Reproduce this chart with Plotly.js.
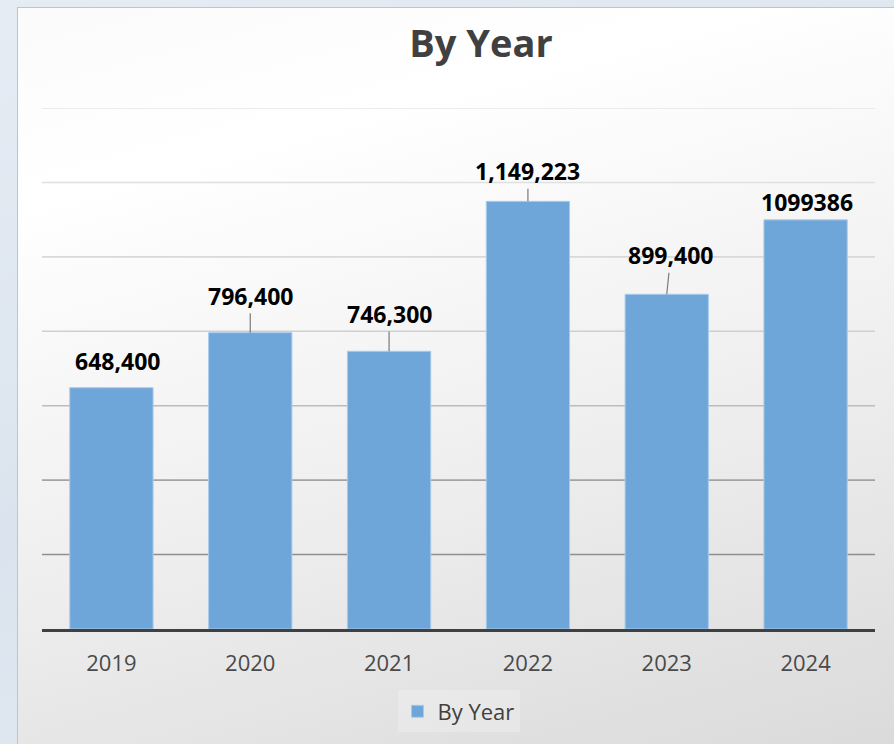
<!DOCTYPE html>
<html>
<head>
<meta charset="utf-8">
<script src="https://cdn.plot.ly/plotly-3.0.1.min.js"></script>
<style>
  html, body { margin:0; padding:0; width:894px; height:744px; overflow:hidden;
    background: linear-gradient(160deg, #e6ecf4 0%, #dbe4ee 50%, #e2e9f2 100%); }
  #frame { position:absolute; left:17px; top:7px; width:900px; height:760px;
    border:1px solid #c4c4c4; box-sizing:border-box;
    background: linear-gradient(165deg, #fbfbfb 0%, #ffffff 20%, #f0f0f0 55%, #d9d9d9 100%); }
  #chart { position:absolute; left:0; top:0; width:894px; height:744px; }
</style>
</head>
<body>
<div id="frame"></div>
<div id="chart"></div>
<script>
const categories = ['2019', '2020', '2021', '2022', '2023', '2024'];
const values = [648400, 796400, 746300, 1149223, 899400, 1099386];
const valueLabels = ['648,400', '796,400', '746,300', '1,149,223', '899,400', '1099386'];
const seriesName = 'By Year';
const gridValues = [200000, 400000, 600000, 800000, 1000000, 1200000, 1400000];

// label placement styling (pixel offsets from bar top) and leader visibility
const labelOffsets = [[6, -27], [0, -37], [0, -37], [0, -30], [4, -39], [1, -18]];
const showLeader = [false, true, true, true, true, false];
const gridColors = ['#8f8f8f', '#a3a3a3', '#bcbcbc', '#cfcfcf', '#d9d9d9', '#e0e0e0', '#e4e4e4'];

const trace = {
  type: 'bar',
  x: categories,
  y: values,
  name: seriesName,
  marker: { color: '#6fa6d9', line: { color: '#a8cbec', width: 1 } },
  hoverinfo: 'skip',
  showlegend: true
};

const annotations = categories.map((c, i) => ({
  x: i, y: values[i], xref: 'x', yref: 'y',
  text: valueLabels[i],
  showarrow: true, arrowhead: 0, arrowwidth: 1.2,
  arrowcolor: showLeader[i] ? '#7a7a7a' : 'rgba(0,0,0,0)',
  ax: labelOffsets[i][0], ay: labelOffsets[i][1],
  standoff: 0,
  font: { family: 'Open Sans, sans-serif', size: 23, color: '#000000', weight: 700 }
}));

const shapes = gridValues.map((v, i) => ({
  type: 'line', xref: 'paper', yref: 'y', x0: 0, x1: 1, y0: v, y1: v,
  line: { color: gridColors[i], width: 1.6 }, layer: 'below'
}));

const layout = {
  width: 894, height: 744,
  paper_bgcolor: 'rgba(0,0,0,0)',
  plot_bgcolor: 'rgba(0,0,0,0)',
  margin: { l: 42, r: 19, t: 108, b: 115 },
  title: {
    text: '<b>By Year</b>',
    x: 0.538, xref: 'container', xanchor: 'center',
    y: 0.941, yref: 'container', yanchor: 'middle',
    font: { family: 'Open Sans, sans-serif', size: 38, color: '#404040' }
  },
  bargap: 0.4,
  xaxis: {
    type: 'category',
    categoryorder: 'array', categoryarray: categories,
    range: [-0.5, categories.length - 0.5],
    showline: true, linecolor: '#404040', linewidth: 2.5,
    ticks: '', showgrid: false,
    ticklabelstandoff: 13,
    tickfont: { family: 'Open Sans, sans-serif', size: 22, color: '#4a4a4a' }
  },
  yaxis: {
    range: [0, 1400000],
    showgrid: false, zeroline: false, showticklabels: false, ticks: '', showline: false
  },
  showlegend: true,
  legend: {
    orientation: 'h', x: 0.5, xanchor: 'center', y: -0.118, yanchor: 'top',
    bgcolor: 'rgba(255,255,255,0.22)', borderwidth: 0,
    font: { family: 'Open Sans, sans-serif', size: 22, color: '#404040' }
  },
  shapes: shapes,
  annotations: annotations
};

Plotly.newPlot('chart', [trace], layout, { displayModeBar: false, staticPlot: true });
</script>
</body>
</html>
